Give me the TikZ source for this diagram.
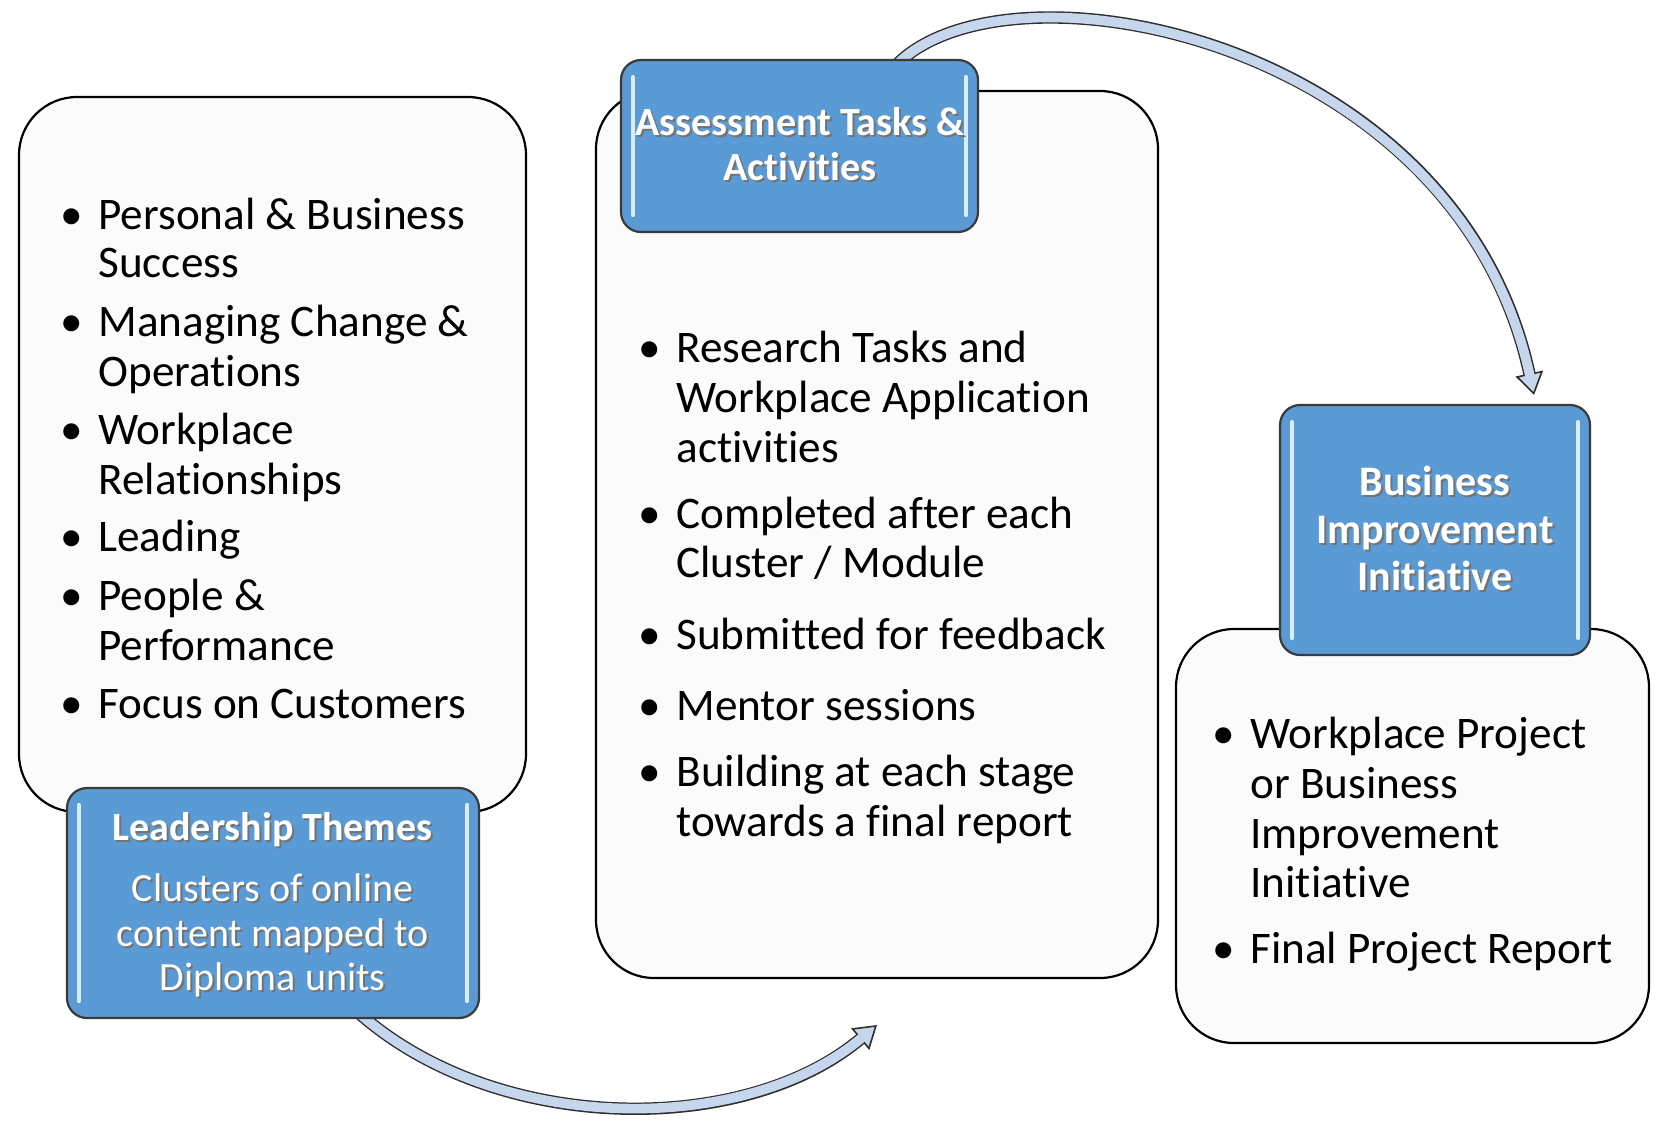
\documentclass[tikz,border=0pt]{standalone}
\usepackage{fontspec}
\setmainfont{Carlito}[Ligatures=NoCommon]
\usetikzlibrary{arrows.meta,calc}
\definecolor{bluebox}{HTML}{5B9BD5}
\definecolor{boxline}{HTML}{3A3A3A}
\definecolor{arrowfill}{HTML}{C6D6EC}
\definecolor{arrowline}{HTML}{2E2E2E}
\definecolor{hilite}{HTML}{D8EEFF}
\definecolor{paper}{HTML}{FBFBFB}
\newcommand\shd[1]{\makebox[0pt][l]{\hspace{1pt}\raisebox{-1pt}{\textcolor{black!55}{#1}}}#1}
\tikzset{
  whitebox/.style={draw=black, line width=1.1pt, fill=paper, rounded corners=29pt, inner sep=0pt},
  bluebx/.style={draw=boxline, line width=1.1pt, fill=bluebox, rounded corners=10pt, inner sep=0pt},
  hl/.style={draw=hilite, line width=2pt, line cap=round},
  txt/.style={font=\fontsize{22.6}{26}\selectfont, anchor=base west, inner sep=0pt},
  bul/.style={font=\fontsize{22.6}{26}\selectfont, anchor=base, inner sep=0pt},
  wtb/.style={font=\bfseries\fontsize{20}{22}\selectfont, text=white, anchor=base, inner sep=0pt},
  wtbig/.style={font=\bfseries\fontsize{21}{23}\selectfont, text=white, anchor=base, inner sep=0pt},
  wtr/.style={font=\fontsize{20}{22}\selectfont, text=white, anchor=base, inner sep=0pt},
  arrout/.style={draw=arrowline, line width=6.2pt, -{Triangle[length=11pt,width=14pt,line width=0.8pt,fill=arrowfill]}},
  arrin/.style={draw=arrowfill, line width=4.8pt, shorten >=10pt}
}
\begin{document}
\begin{tikzpicture}[x=0.5pt,y=-0.5pt]
\useasboundingbox[fill=white] (0,0) rectangle (1657,1120);

% connectors (behind boxes)
\coordinate (t0) at (890,72);
\coordinate (t1) at (1534,395);
\coordinate (b0) at (345,1000);
\coordinate (b1) at (877,1025);
\draw[arrout] (t0) .. controls (990,-52) and (1455,30) .. (t1);
\draw[arrin]  (t0) .. controls (990,-52) and (1455,30) .. (t1);
\draw[arrout] (b0) .. controls (480,1135) and (740,1140) .. (b1);
\draw[arrin]  (b0) .. controls (480,1135) and (740,1140) .. (b1);

% white content boxes
\node[whitebox, minimum width=253.5pt, minimum height=357.5pt] (L) at (272.5,454.5) {};
\node[whitebox, minimum width=281pt, minimum height=443.5pt] (M) at (877,534.5) {};
\node[whitebox, minimum width=236.5pt, minimum height=207pt] (R) at (1412.5,836) {};

% blue title boxes
\node[bluebx, minimum width=206pt, minimum height=115pt] (LT) at (273,903) {};
\node[bluebx, minimum width=178.5pt, minimum height=86pt] (MT) at (799.5,146) {};
\node[bluebx, minimum width=155pt, minimum height=125pt] (RT) at (1435,530) {};
\foreach \b in {LT,MT,RT}{
  \draw[hl] ($(\b.north west)+(6.5pt,-9pt)$) -- ($(\b.south west)+(6.5pt,9pt)$);
  \draw[hl] ($(\b.north east)+(-6.5pt,-9pt)$) -- ($(\b.south east)+(-6.5pt,9pt)$);
}

% titles
\node[wtb] (mt1) at (800,135.5) {\shd{Assessment Tasks \&}};
\node[wtb] (mt2) at (800,180) {\shd{Activities}};
\node[wtbig] (rt1) at (1435,495.5) {\shd{Business}};
\node[wtbig] (rt2) at (1435,543) {\shd{Improvement}};
\node[wtbig] (rt3) at (1435,590.5) {\shd{Initiative}};
\node[wtb] (lt1) at (272.6,840.5) {\shd{Leadership Themes}};
\node[wtr] (lt2) at (272.6,901.8) {\shd{Clusters of online}};
\node[wtr] (lt3) at (272.6,946) {\shd{content mapped to}};
\node[wtr] (lt4) at (272.6,990.5) {\shd{Diploma units}};

% left list
\foreach \y in {229,336,444,551,610,718}{\node[bul] at (72,\y) {\textbullet};}
\node[txt] (l1) at (98,229) {Personal \& Business};
\node[txt] (l2) at (98,277) {Success};
\node[txt] (l3) at (98,336) {Managing Change \&};
\node[txt] (l4) at (98,386) {Operations};
\node[txt] (l5) at (98,444) {Workplace};
\node[txt] (l6) at (98,494) {Relationships};
\node[txt] (l7) at (98,551) {Leading};
\node[txt] (l8) at (98,610) {People \&};
\node[txt] (l9) at (98,660) {Performance};
\node[txt] (l10) at (98,718) {Focus on Customers};

% middle list
\foreach \y in {362,528,649,720,786}{\node[bul] at (650,\y) {\textbullet};}
\node[txt] (m1) at (676,362) {Research Tasks and};
\node[txt] (m2) at (676,412) {Workplace Application};
\node[txt] (m3) at (676,462) {activities};
\node[txt] (m4) at (676,528) {Completed after each};
\node[txt] (m5) at (676,577) {Cluster / Module};
\node[txt] (m6) at (676,649) {Submitted for feedback};
\node[txt] (m7) at (676,720) {Mentor sessions};
\node[txt] (m8) at (676,786) {Building at each stage};
\node[txt] (m9) at (676,836) {towards a final report};

% right list
\foreach \y in {748,963}{\node[bul] at (1224,\y) {\textbullet};}
\node[txt] (r1) at (1250,748) {Workplace Project};
\node[txt] (r2) at (1250,798) {or Business};
\node[txt] (r3) at (1250,848) {Improvement};
\node[txt] (r4) at (1250,897) {Initiative};
\node[txt] (r5) at (1250,963) {Final Project Report};
\end{tikzpicture}
\end{document}
